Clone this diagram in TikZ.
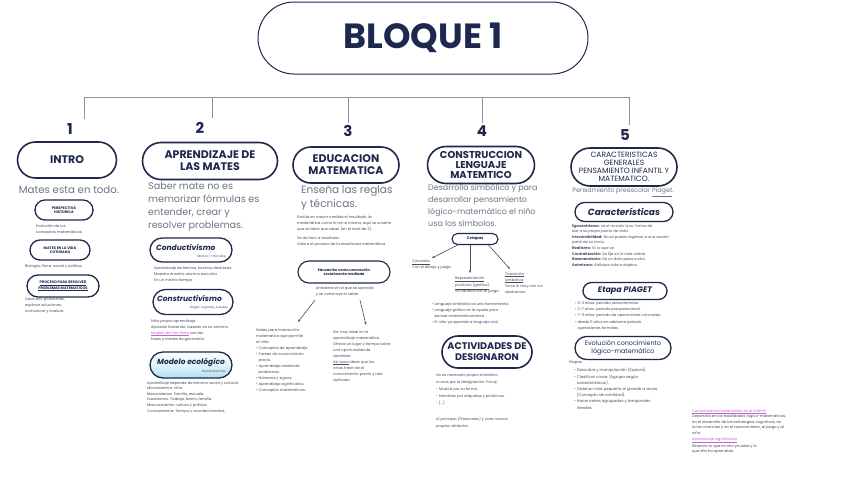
\documentclass[tikz,border=0pt]{standalone}
\usepackage{fontspec}
\setmainfont{Poppins}
\usetikzlibrary{shapes.misc,arrows.meta}

\begin{document}
\begin{tikzpicture}[x=1pt,y=-1pt,
    pill/.style={rounded rectangle, draw=mynavy, line width=1.6pt, text=mynavy, align=center, inner sep=0pt},
    subpill/.style={pill, line width=1.3pt},
    headtxt/.style={font=\bfseries\fontsize{11}{12}\selectfont},
    subtxt/.style={font=\bfseries\itshape\fontsize{7.5}{8}\selectfont},
    capsmall/.style={font=\bfseries\fontsize{3.6}{4.4}\selectfont},
    body/.style={text=mybody, align=left, inner sep=0pt, font=\fontsize{9.6}{13}\selectfont},
    tiny/.style={text=mytiny, align=left, inner sep=0pt, font=\fontsize{3.7}{6}\selectfont},
    numtxt/.style={text=mynavy, inner sep=0pt, font=\bfseries\fontsize{15}{16}\selectfont},
    bar/.style={draw=mybar, line width=0.9pt},
    arr/.style={->, >={Stealth[length=3pt]}, mytiny, line width=0.6pt}]
    \definecolor{mynavy}{RGB}{30,40,78}
    \definecolor{mybar}{RGB}{140,146,160}
    \definecolor{mybody}{RGB}{110,116,132}
    \definecolor{mytiny}{RGB}{70,75,90}
    \definecolor{mylink}{RGB}{200,95,210}
    \definecolor{myeco}{RGB}{175,225,240}

    \useasboundingbox (0,0) rectangle (848,477);
    \fill[white] (0,0) rectangle (848,477);

    % title
    \node[pill, line width=1pt, minimum width=330, minimum height=72,
        font=\bfseries\fontsize{35}{36}\selectfont] (bloque) at (423,38) {BLOQUE 1};

    % bar and numbers
    \coordinate (bar1) at (84,97);
    \coordinate (bar2) at (212,97);
    \coordinate (bar3) at (348,97);
    \coordinate (bar4) at (482,97);
    \coordinate (bar5) at (629,97);
    \node[numtxt] (n1) at (70,129) {1};
    \node[numtxt] (n2) at (200,128) {2};
    \node[numtxt] (n3) at (348,131) {3};
    \node[numtxt] (n4) at (482,131) {4};
    \node[numtxt] (n5) at (625,135) {5};
    \draw[bar] (bar1) -- (bar5);
    \foreach \i/\d in {1/4,2/4,3/2,4/2,5/4}
        \draw[bar] (bar\i) -- ([yshift=\d]bar\i |- n\i.north);

    % 1 intro
    \node[pill, headtxt, minimum width=99, minimum height=36] (intro) at (67,160) {INTRO};
    \node[body, anchor=center, font=\fontsize{10.2}{12}\selectfont] (intro-t) at (69,190) {Mates esta en todo.};
    \node[subpill, capsmall, minimum width=58, minimum height=20] (persp) at (64,210) {PERSPECTIVA\\HISTORICA};
    \node[tiny, anchor=north west] (persp-t) at (36,224) {Evolución de los\\conceptos matemáticos.};
    \node[subpill, capsmall, minimum width=60, minimum height=20] (vida) at (60,250) {MATES EN LA VIDA\\COTIDIANA};
    \node[tiny, anchor=west] (vida-t) at (25,267) {Biología, física, social y política.};
    \node[subpill, capsmall, minimum width=72, minimum height=22] (proc) at (63,286) {\underline{PROCESO PARA RESOLVER}\\\underline{PROBLEMAS MATEMATICOS}};
    \node[tiny, anchor=north west] (proc-t) at (25,297) {Descubrir problemas,\\explorar soluciones,\\comunicar y evaluar.};

    % 2 aprendizaje
    \node[pill, headtxt, minimum width=135, minimum height=37] (apren) at (210,161) {APRENDIZAJE DE\\LAS MATES};
    \node[body, anchor=north west] (apren-t) at (148,182) {Saber mate no es\\memorizar fórmulas es\\entender, crear y\\resolver problemas.};
    \node[subpill, minimum width=82, minimum height=24] (cond) at (191,250) {};
    \node[subtxt, text=mynavy, anchor=west, inner sep=0pt] (cond-h) at (156,248) {Conductivismo};
    \node[tiny, anchor=east, font=\fontsize{3}{4}\selectfont] (cond-a) at (226,256) {Skinner / Thorndike};
    \node[tiny, anchor=north west] (cond-t) at (154,266) {Aprendizaje de hechos, hechos, destrezas.\\Maestro enseña, alumno escucha.\\En un mismo tiempo.};
    \node[subpill, minimum width=80, minimum height=25] (cons) at (193,302) {};
    \node[subtxt, text=mynavy, anchor=west, inner sep=0pt] (cons-h) at (157,299) {Constructivismo};
    \node[tiny, anchor=east, font=\fontsize{3}{4}\selectfont] (cons-a) at (228,308) {Piaget, Vygotsky, Ausubel};
    \node[tiny, anchor=north west] (cons-t) at (151,319) {Niño propio aprendizaje.\\Aprende haciendo, basado en su entorno.\\\textcolor{mylink}{\underline{Modelo de Van Hiele}} con las\\fases y niveles de geometría.};
    \node[subpill, top color=white, bottom color=myeco, middle color=myeco!40, minimum width=82, minimum height=26] (eco) at (191,365) {};
    \node[subtxt, text=mynavy, anchor=west, inner sep=0pt] (eco-h) at (157,362) {Modelo ecológico};
    \node[tiny, anchor=east, font=\fontsize{3}{4}\selectfont] (eco-a) at (226,371) {Bronfenbrenner};
    \node[tiny, anchor=north west, font=\fontsize{3.7}{5.6}\selectfont] (eco-t) at (147,381) {Aprendizaje depende de entorno social y cultural.\\Microsistema: niño.\\Mesosistema: Familia, escuela.\\Exosistema: Trabajo, barrio, familia.\\Macrosistema: cultura y política.\\Cronosistema: Tiempo y acontecimientos.};

    % 3 educacion
    \node[pill, headtxt, minimum width=106, minimum height=36] (edu) at (346,165) {EDUCACION\\MATEMATICA};
    \node[body, anchor=north west, font=\fontsize{10.5}{14}\selectfont] (edu-t) at (301,186) {Enseña las reglas\\y técnicas.};
    \node[tiny, anchor=north west] (edu-a) at (297,215) {Evalúa en mayor medida el resultado, la\\matemática como fin en sí misma, aquí se enseña\\que se tiene que saber (en el nivel de 3).};
    \node[tiny, anchor=north west] (edu-b) at (297,236) {Se da foco a resultado.\\Valora el proceso de la enseñanza matemática.};
    \node[subpill, capsmall, line width=1.1pt, minimum width=92, minimum height=22] (soc) at (344,272) {Educación como una acción\\socialmente mediada};
    \node[tiny, anchor=center] (amb) at (345,292) {Ambiente en el que se aprende\\y se construye el saber.};
    \node[tiny, anchor=north west] (sedes) at (256,328) {Sedes para interacción\\matemática que permite\\al niño:\\\textbullet~Conceptos de aprendizaje.\\\textbullet~Tareas de conocimiento\\\phantom{\textbullet~}previo.\\\textbullet~Aprendizaje mediante\\\phantom{\textbullet~}problemas.\\\textbullet~Números y signos.\\\textbullet~Aprendizaje significativo.\\\textbullet~Conceptos matemáticos.};
    \node[tiny, anchor=north west] (ideal) at (333,330) {Ser muy ideal en el\\aprendizaje matemático.\\Ofrece un lugar y tiempo sobre\\una oportunidad de\\aprender.\\\underline{Así saca} ideas que los\\niños traen de el\\conocimiento previo y real\\aplicado.};
    \draw[arr] ([xshift=-30pt,yshift=-3pt]amb.south) -- ([xshift=42pt,yshift=6pt]sedes.north west);
    \draw[arr] ([xshift=15pt,yshift=-3pt]amb.south) -- ([xshift=33pt,yshift=5pt]ideal.north west);

    % 4 lenguaje
    \node[pill, headtxt, font=\bfseries\fontsize{10}{10}\selectfont, minimum width=107, minimum height=37] (leng) at (481,165) {CONSTRUCCION\\LENGUAJE\\MATEMTICO};
    \node[body, anchor=north west, font=\fontsize{8}{12}\selectfont] (leng-t) at (428,184) {Desarrollo simbólico y para\\desarrollar pensamiento\\lógico-matemático el niño\\usa los símbolos.};
    \node[subpill, line width=1.1pt, font=\bfseries\itshape\fontsize{3.8}{4}\selectfont, minimum width=46, minimum height=11] (etapas) at (475,239) {3 etapas};
    \node[tiny, anchor=north west] (concreta) at (412,260) {\underline{Concreta}\\Con el dibujo y juego.};
    \node[tiny, anchor=north west] (pictorica) at (455,276) {\underline{Representación}\\\underline{pictórica (gráfica)}\\Se cambia con el juego.};
    \node[tiny, anchor=north west] (simbolica) at (505,272) {\underline{Transición}\\\underline{simbólica}\\Ya se lo muy con los\\abstractos.};
    \draw[arr] (etapas.south west) -- ([xshift=20pt,yshift=2pt]concreta.north west);
    \draw[arr] ([xshift=-5pt]etapas.south) -- ([xshift=15pt,yshift=3pt]pictorica.north west);
    \draw[arr] ([xshift=-4pt]etapas.south east) -- ([xshift=5pt,yshift=3pt]simbolica.north west);
    \node[tiny, anchor=north west] (leng-b) at (432,302) {\textbullet~Lenguaje simbólico es una herramienta.\\\textbullet~Lenguaje gráfico es la ayuda para\\\phantom{\textbullet~}pensar matemáticamente.\\\textbullet~El niño ya aprende a lenguaje oral.};
    \node[pill, headtxt, font=\bfseries\fontsize{9.6}{11}\selectfont, minimum width=90, minimum height=32] (activ) at (487,352) {ACTIVIDADES DE\\DESIGNARON};
    \node[tiny, anchor=north west, font=\fontsize{3.7}{7}\selectfont] (activ-t) at (436,373) {No es necesario propio simbólico\\a unas por la designación. Por ej:\\- Música por su forma.\\- Nombres por etiquetas y pictóricos.\\- [...]};
    \node[tiny, anchor=north west, font=\itshape\fontsize{3.7}{7}\selectfont] (activ-c) at (436,417) {Al principio (Preescolar) y crea nuevos\\propios símbolos.};

    % 5 caracteristicas
    \node[pill, minimum width=106, minimum height=38, font=\fontsize{7.6}{7.8}\selectfont] (carac) at (624,167) {CARACTERISTICAS\\GENERALES\\PENSAMIENTO INFANTIL Y\\MATEMATICO.};
    \node[body, anchor=center, font=\fontsize{6.4}{8}\selectfont] (carac-t) at (623,192) {Pensamiento preescolar \underline{Piaget}.};
    \node[subpill, subtxt, font=\bfseries\itshape\fontsize{9}{10}\selectfont, minimum width=98, minimum height=19] (caract) at (624,212) {Características};
    \node[tiny, anchor=north west, font=\fontsize{3.7}{5.6}\selectfont] (caract-t) at (572,224) {\textbf{Egocentrismo:} ve el mundo `a su' forma de\\dar a su propio punto de vista.\\\textbf{Irreversibilidad:} No se puede regresar a una acción\\partir de su inicio.\\\textbf{Realismo:} Es lo que ve.\\\textbf{Centralización:} Se fija en lo más visible.\\\textbf{Razonamiento:} De un dato pasa a otro.\\\textbf{Animismo:} Atribuye vida a objetos.};
    \node[subpill, subtxt, font=\bfseries\itshape\fontsize{8}{9}\selectfont, minimum width=84, minimum height=17] (piaget) at (625,291) {Etapa PIAGET};
    \node[tiny, anchor=north west, font=\fontsize{3.7}{6.4}\selectfont] (piaget-t) at (575,301) {\textbullet~0-2 años: periodo sensoriomotor.\\\textbullet~2-7 años: periodo preoperacional.\\\textbullet~7-11 años: periodo de operaciones concretas.\\\textbullet~desde 11 años en adelante periodo\\\phantom{\textbullet~}operaciones formales.};
    \node[subpill, minimum width=96, minimum height=23, font=\fontsize{6.4}{8}\selectfont] (evol) at (623,348) {Evolución conocimiento\\lógico-matemático};
    \node[tiny, anchor=north west] (evol-e) at (569,361) {Etapas:};
    \node[tiny, anchor=north west, font=\fontsize{3.9}{6.2}\selectfont] (evol-t) at (574,368) {\textbullet~Descubre y manipulación (Explora).\\\textbullet~Clasificar cosas (Agrupa según\\\phantom{\textbullet~}características).\\\textbullet~Ordenar más pequeño al grande a veces\\\phantom{\textbullet~}(Concepto de cantidad).\\\textbullet~Hacer series agrupadas y temporales\\\phantom{\textbullet~}lineales.};

    % side note
    \node[tiny, anchor=north west, font=\fontsize{3.7}{5.6}\selectfont] (nota) at (692,409) {\textcolor{mylink}{\underline{Conocimiento matemático en el Infantil}}\\Desarrolla en los habilidades lógico-matemáticas,\\en el desarrollo de las estrategias cognitivas, en\\la las vivencias y en el razonamiento, al juego y al\\niño.\\\textcolor{mylink}{\underline{Aprendizaje significativo}}\\Relación lo que el niño ya sabe y lo\\que ella ha aprendido.};
\end{tikzpicture}
\end{document}
